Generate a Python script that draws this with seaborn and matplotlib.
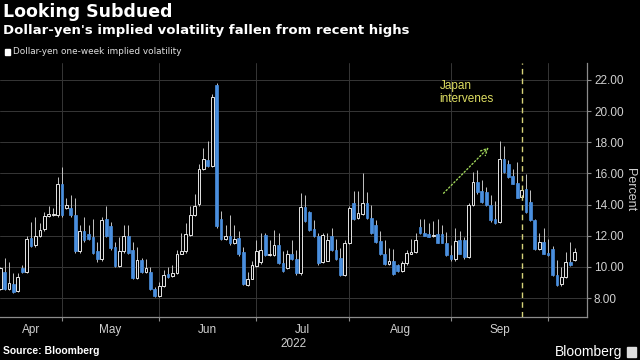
import numpy as np
import pandas as pd
import seaborn as sns
import matplotlib.pyplot as plt
from matplotlib.patches import Rectangle

# Dollar-yen one-week implied volatility, daily candles (percent)
start_date = '2022-04-12'
opens = [8.6, 9.7, 8.6, 8.9, 8.45, 9.9, 9.7, 11.85, 11.4, 12.0,
         12.4, 13.25, 13.3, 13.3, 15.3, 13.75, 13.75, 13.3, 11.0, 12.3,
         12.1, 11.9, 11.0, 10.5, 13.1, 12.6, 11.25, 10.05, 11.0, 11.95,
         11.1, 9.3, 10.45, 9.65, 9.7, 8.56, 8.1, 8.75, 9.55, 9.4,
         9.6, 10.85, 11.0, 12.05, 13.3, 14.06, 16.3, 16.85, 16.5, 21.7,
         13.1, 11.8, 12.0, 11.5, 11.85, 10.95, 8.85, 9.25, 10.05, 10.3,
         12.05, 10.75, 10.78, 11.4, 10.27, 9.9, 10.82, 10.5, 9.58, 13.85,
         13.55, 12.42, 11.95, 10.33, 10.4, 12.0, 11.1, 10.6, 9.47, 11.52,
         14.12, 13.12, 13.42, 14.1, 13.16, 12.67, 11.66, 10.85, 10.2, 10.38,
         10.1, 9.75, 10.22, 10.85, 10.95, 12.53, 12.18, 12.13, 11.95, 12.1,
         12.1, 11.55, 10.78, 10.48, 11.75, 11.74, 10.65, 13.97, 15.45, 14.87,
         14.8, 13.95, 13.05, 12.85, 16.9, 16.59, 15.82, 15.39, 14.5, 15.02,
         14.17, 13.03, 11.17, 11.6, 10.89, 11.17, 9.5, 8.88, 9.35, 10.31,
         10.42]
highs = [10.0, 10.6, 10.3, 9.6, 9.6, 10.1, 12.0, 12.9, 13.2, 12.8,
         13.5, 13.9, 13.8, 15.8, 16.4, 14.4, 14.6, 14.4, 12.7, 13.2,
         12.7, 13.1, 11.6, 13.2, 13.9, 12.9, 11.6, 11.9, 12.7, 12.7,
         11.6, 11.3, 10.6, 10.5, 10.0, 8.7, 9.0, 9.8, 10.0, 10.1,
         11.1, 12.2, 12.8, 13.9, 14.7, 16.6, 17.6, 18.1, 21.1, 21.8,
         13.6, 12.7, 13.3, 12.7, 12.3, 11.3, 9.7, 10.4, 11.7, 12.2,
         12.15, 11.7, 12.35, 12.15, 11.0, 11.1, 11.7, 11.1, 14.75, 14.6,
         13.6, 13.0, 12.17, 12.2, 12.17, 12.5, 11.8, 11.2, 11.7, 13.9,
         14.9, 14.9, 16.0, 14.8, 13.95, 13.0, 12.3, 11.7, 11.23, 11.17,
         10.2, 10.4, 11.06, 11.8, 12.2, 13.1, 13.05, 12.8, 12.95, 13.1,
         12.67, 12.26, 11.42, 12.5, 12.3, 11.9, 14.1, 16.1, 16.2, 15.56,
         15.13, 14.6, 14.2, 18.05, 17.75, 16.84, 16.3, 16.74, 15.2, 15.99,
         14.96, 13.1, 12.2, 12.5, 11.81, 11.32, 10.42, 9.99, 10.95, 11.6,
         11.2]
lows = [8.5, 8.5, 8.5, 8.35, 8.4, 9.6, 9.6, 11.3, 11.3, 11.9,
        12.3, 13.2, 13.25, 13.2, 13.2, 13.7, 13.2, 10.9, 10.9, 11.6,
        11.75, 10.8, 10.3, 10.4, 11.9, 11.1, 10.0, 10.0, 10.9, 10.8,
        9.2, 9.2, 9.6, 9.6, 8.5, 8.05, 8.05, 8.7, 9.3, 9.35,
        9.55, 10.8, 10.9, 12.0, 13.25, 13.9, 16.2, 16.4, 16.4, 12.5,
        11.7, 11.7, 11.4, 11.45, 10.7, 8.85, 8.75, 9.2, 10.0, 10.2,
        10.7, 10.7, 10.7, 10.2, 9.7, 9.85, 10.45, 9.5, 9.5, 12.85,
        12.3, 11.9, 10.1, 10.25, 10.35, 11.0, 10.45, 9.4, 9.4, 11.45,
        13.0, 13.05, 13.35, 13.1, 12.1, 11.5, 10.75, 10.15, 10.15, 9.5,
        9.7, 9.7, 10.15, 10.8, 10.9, 12.1, 11.95, 11.9, 11.9, 11.5,
        11.5, 10.7, 10.4, 10.4, 10.8, 10.5, 10.55, 13.9, 14.7, 14.1,
        13.9, 12.9, 12.75, 12.8, 16.0, 15.7, 15.3, 14.4, 14.4, 13.45,
        12.95, 11.1, 11.1, 10.8, 10.7, 9.4, 8.75, 8.8, 9.3, 10.05,
        10.35]
closes = [9.95, 8.6, 8.95, 8.4, 9.35, 9.65, 11.8, 11.35, 12.0, 12.35,
          13.25, 13.4, 13.4, 15.3, 13.3, 13.95, 13.3, 11.0, 12.3, 11.7,
          11.8, 10.9, 10.5, 13.0, 12.0, 11.2, 10.05, 11.0, 11.95, 10.9,
          9.3, 10.45, 9.65, 9.9, 8.56, 8.1, 8.75, 9.5, 9.35, 9.6,
          10.85, 11.0, 12.1, 13.3, 13.9, 16.3, 16.9, 16.5, 20.9, 12.6,
          11.8, 12.0, 11.5, 11.8, 10.8, 8.9, 9.25, 10.1, 11.05, 11.1,
          10.75, 10.8, 11.4, 10.27, 9.75, 10.85, 10.5, 9.58, 13.85, 12.92,
          12.38, 11.95, 10.27, 12.05, 11.72, 11.08, 10.5, 9.47, 11.5, 13.77,
          13.08, 13.48, 14.1, 13.16, 12.18, 11.6, 10.8, 10.2, 10.35, 9.56,
          9.75, 10.22, 10.9, 10.97, 11.72, 12.18, 12.0, 11.94, 12.07, 11.55,
          11.55, 10.75, 10.48, 11.65, 10.85, 10.65, 14.0, 15.45, 14.8, 14.17,
          13.95, 12.99, 12.84, 16.95, 16.1, 15.77, 15.34, 14.45, 14.95, 13.52,
          13.03, 11.17, 11.6, 10.85, 10.74, 9.5, 8.81, 9.35, 10.31, 10.1,
          10.95]
month_labels = ['Apr', 'May', 'Jun', 'Jul', 'Aug', 'Sep']
y_ticks = [8, 10, 12, 14, 16, 18, 20, 22]
intervention_day = '2022-09-23'

df = pd.DataFrame({'date': pd.bdate_range(start_date, periods=len(opens)),
                   'open': opens, 'high': highs, 'low': lows, 'close': closes})
df['pos'] = np.arange(len(df))
up = df[df.close >= df.open]
down = df[df.close < df.open]

sns.set_theme(style='dark', rc={'figure.facecolor': 'black', 'axes.facecolor': 'black',
                                'axes.edgecolor': '#8c8c8c', 'grid.color': '#363636'})
plt.rcParams['font.family'] = ['Liberation Sans', 'DejaVu Sans']
head_font = ['DejaVu Sans']

fig = plt.figure(figsize=(6.4, 3.6), dpi=100)
ax = fig.add_axes([0.0, 1 - 317 / 360, 587 / 640, 254 / 360])

blue = '#4a8fdf'
ax.vlines(df.pos, df.low, df.high, color='#c4c4c4', lw=0.7, zorder=2)
ax.bar(up.pos, up.close - up.open, bottom=up.open, width=0.62,
       facecolor='black', edgecolor='#e6e6e6', lw=0.7, zorder=3)
ax.bar(down.pos, down.open - down.close, bottom=down.close, width=0.62,
       facecolor=blue, edgecolor=blue, lw=0.5, zorder=3)

# month boundaries
starts = df.groupby(df.date.dt.to_period('M')).pos.min().values
x0, x1 = -0.03, 132.8
ax.set_xlim(x0, x1)
ax.set_ylim(6.78, 23.09)
bounds = [x0] + list(starts[1:])
mids = [(bounds[i] + bounds[i + 1]) / 2 for i in range(len(month_labels))]
ax.set_xticks(starts[1:])
ax.set_xticklabels([])
ax.set_xticks(mids, minor=True)
ax.set_xticklabels(month_labels, minor=True)
ax.tick_params(axis='x', which='major', length=3, width=0.8, color='#8c8c8c', bottom=True)
ax.tick_params(axis='x', which='minor', length=0, pad=5, labelsize=8.5, labelcolor='#d0d0d0')
ax.text(0.5, -0.083, '2022', transform=ax.transAxes, ha='center', va='top',
        fontsize=8.5, color='#d0d0d0')

ax.yaxis.tick_right()
ax.set_yticks(y_ticks)
ax.set_yticklabels([f'{v:.2f}' for v in y_ticks])
ax.tick_params(axis='y', length=3, width=0.8, color='#8c8c8c', right=True, left=False,
               pad=2, labelsize=8.5, labelcolor='#d0d0d0')
ax.grid(True, which='major', lw=0.7)
for s in ['left', 'top']:
    ax.spines[s].set_visible(False)
for s in ['right', 'bottom']:
    ax.spines[s].set_color('#8c8c8c')
    ax.spines[s].set_linewidth(0.9)

# Japan intervention
xi = df.loc[df.date == pd.Timestamp(intervention_day), 'pos'].iloc[0]
ax.axvline(xi, color='#d6d27a', lw=1.0, ls=(0, (4, 3)), zorder=4)
ax.text(99.4, 22.0, 'Japan\nintervenes', color='#dede62', fontsize=8.5,
        ha='left', va='top', linespacing=1.15)
ax.annotate('', xy=(111.0, 17.8), xytext=(99.9, 14.6),
            arrowprops=dict(arrowstyle='->', color='#9fd45a', lw=1.0, ls=':'))

# header and footer
fig.text(0.004, 1 - 3 / 360, 'Looking Subdued', color='white', fontsize=12.5,
         fontweight='bold', ha='left', va='top', family=head_font)
fig.text(0.004, 1 - 24 / 360, "Dollar-yen's implied volatility fallen from recent highs",
         color='white', fontsize=9.5, fontweight='bold', ha='left', va='top', family=head_font)
fig.patches.append(Rectangle((5 / 640, 1 - 55 / 360), 5 / 640, 6 / 360, color='white',
                             transform=fig.transFigure, figure=fig))
fig.text(13 / 640, 1 - 47 / 360, 'Dollar-yen one-week implied volatility', color='#e0e0e0',
         fontsize=6.4, ha='left', va='top', family=head_font)
fig.text(630 / 640, 0.472, 'Percent', color='#d0d0d0', fontsize=9, rotation=270,
         ha='center', va='center')
fig.text(0.004, 1 - 346 / 360, 'Source: Bloomberg', color='white', fontsize=7.5,
         fontweight='bold', ha='left', va='top')
fig.text(622 / 640, 1 - 345 / 360, 'Bloomberg', color='white', fontsize=10,
         ha='right', va='top')
fig.patches.append(Rectangle((627 / 640, 1 - 357 / 360), 9 / 640, 10 / 360, color='#dddddd',
                             transform=fig.transFigure, figure=fig))

fig.savefig('out.png', dpi=100, facecolor='black')
